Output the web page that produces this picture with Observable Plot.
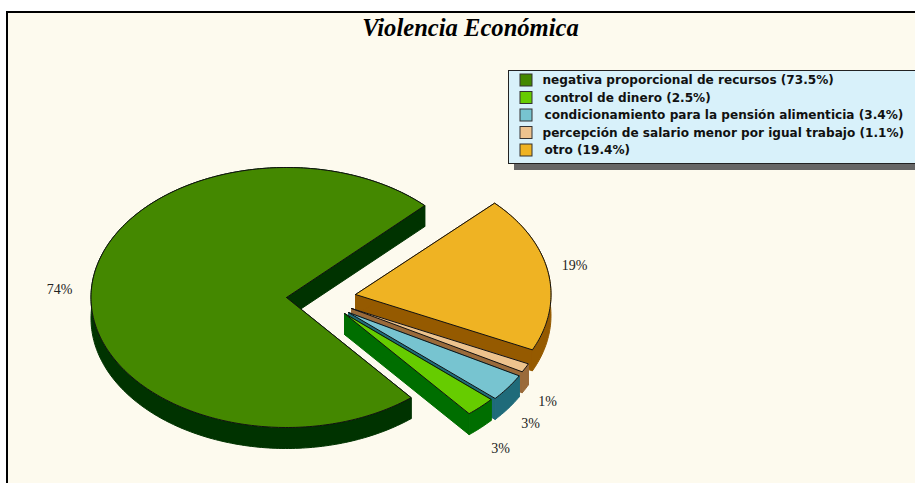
<!DOCTYPE html>
<html>
<head>
<meta charset="utf-8">
<script src="https://cdn.jsdelivr.net/npm/d3@7"></script>
<script src="https://cdn.jsdelivr.net/npm/@observablehq/plot@0.6"></script>
<style>html,body{margin:0;padding:0;background:#fff}svg{display:block}</style>
</head>
<body>
<div id="chart"></div>
<script>
const title = "Violencia Económica";
const categories = [
  "negativa proporcional de recursos",
  "control de dinero",
  "condicionamiento para la pensión alimenticia",
  "percepción de salario menor por igual trabajo",
  "otro"
];
const values = [73.5, 2.5, 3.4, 1.1, 19.4];
const topColors = ["#448800", "#66CC00", "#77C4D0", "#EDC38E", "#EFB323"];
const sideColors = ["#003300", "#006E00", "#1F6B7A", "#9A6A3A", "#955A00"];

// layout of the pie, not data
const RX = 195.5, RY = 130, DEPTH = 21, START = 45;
const apexes = [[286, 297], [344, 313], [348, 312], [351, 308], [355, 294]];
const labelAt = [[59, 289], [500, 448], [530, 423], [547, 401], [574, 265]];
const legendX = [542, 544, 544, 542, 544];
const drawOrder = [0, 4, 3, 2, 1];

const total = d3.sum(values) + 0.1; // the chart's percentages sum to 99.9
let acc = START;
const slices = values.map((v, i) => {
  const a0 = acc, a1 = acc + v / total * 360;
  acc = a1;
  return {i, a0, a1, cx: apexes[i][0], cy: apexes[i][1]};
});
const arc = (s, dy = 0) => {
  const pts = [];
  const n = Math.max(2, Math.ceil(s.a1 - s.a0));
  for (let k = 0; k <= n; k++) {
    const t = (s.a0 + (s.a1 - s.a0) * k / n) * Math.PI / 180;
    pts.push({x: s.cx + RX * Math.cos(t), y: s.cy - RY * Math.sin(t) + dy});
  }
  return pts;
};
const closed = (pts) => [...pts, pts[0]];
const polygons = drawOrder.flatMap((i) => {
  const s = slices[i];
  const top = arc(s), low = arc(s, DEPTH);
  const apex = {x: s.cx, y: s.cy}, apexLow = {x: s.cx, y: s.cy + DEPTH};
  const side = sideColors[i];
  return [
    {pts: closed([apex, top[0], low[0], apexLow]), fill: side, stroke: side, sw: 1},
    {pts: closed([apex, top[top.length - 1], low[low.length - 1], apexLow]), fill: side, stroke: side, sw: 1},
    {pts: closed([...top, ...low.slice().reverse()]), fill: side, stroke: side, sw: 1},
    {pts: closed([apex, ...top]), fill: topColors[i], stroke: "#111", sw: 1}
  ];
});

const rows = categories.map((c, i) => ({
  text: `${c} (${values[i].toFixed(1)}%)`,
  x: legendX[i],
  y: 80 + i * 17.5,
  color: topColors[i]
}));
const pctLabels = values.map((v, i) => ({text: `${Math.round(v)}%`, x: labelAt[i][0], y: labelAt[i][1]}));

const chart = Plot.plot({
  width: 915, height: 483,
  marginTop: 0, marginRight: 0, marginBottom: 0, marginLeft: 0,
  x: {type: "identity", axis: null}, y: {type: "identity", axis: null},
  style: {background: "#fff"},
  marks: [
    Plot.rect([0], {x1: 7, y1: 12, x2: 1000, y2: 700, fill: "#FDFAEE", stroke: "#000", strokeWidth: 2}),
    ...polygons.map((p) => Plot.line(p.pts, {x: "x", y: "y", fill: p.fill, stroke: p.stroke, strokeWidth: p.sw})),
    Plot.text(pctLabels, {x: "x", y: "y", text: "text", fontFamily: "Liberation Serif", fontSize: 14, fill: "#222"}),
    Plot.rect([0], {x1: 514, y1: 76, x2: 1000, y2: 170, fill: "#666"}),
    Plot.rect([0], {x1: 508.5, y1: 70.5, x2: 1000, y2: 163.5, fill: "#D8F1FA", stroke: "#222", strokeWidth: 1}),
    Plot.rect(rows, {x1: () => 520, x2: () => 532, y1: (d) => d.y - 6, y2: (d) => d.y + 6, fill: "color", stroke: "#333", strokeWidth: 1}),
    Plot.text(rows, {x: "x", y: "y", text: "text", textAnchor: "start", fontFamily: "DejaVu Sans", fontWeight: "bold", fontSize: 12.1, fill: "#111", lineAnchor: "middle"}),
    Plot.text([title], {x: () => 470, y: () => 28, text: (d) => d, fontFamily: "Liberation Serif", fontWeight: "bold", fontStyle: "italic", fontSize: 24.6, fill: "#000"})
  ],
  color: {type: "identity"}
});
document.getElementById("chart").appendChild(chart);
</script>
</body>
</html>
